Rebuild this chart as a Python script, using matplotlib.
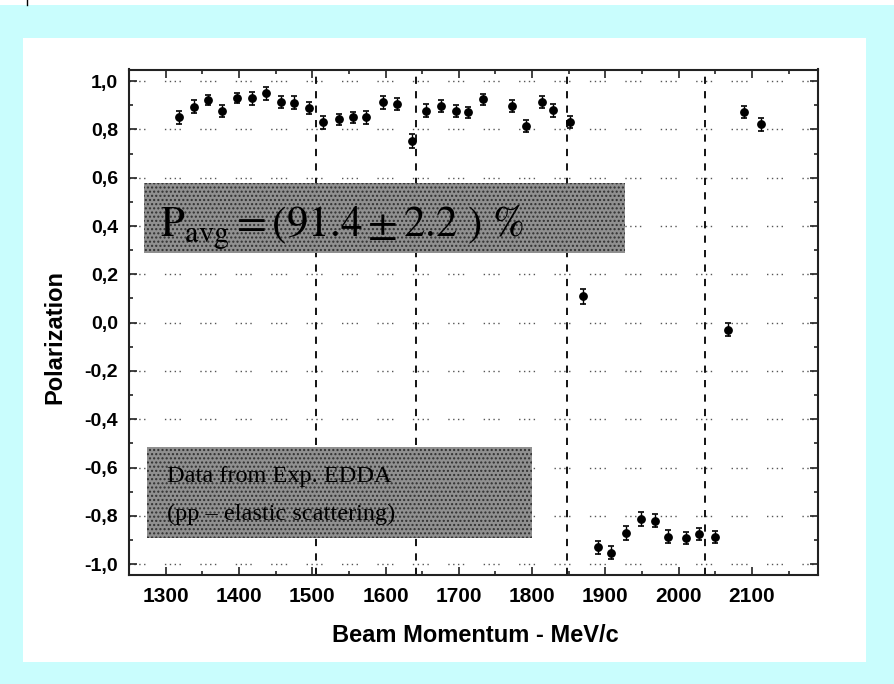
import numpy as np
import matplotlib
matplotlib.use('Agg')
from matplotlib import pyplot as plt
from matplotlib.patches import Rectangle
from matplotlib.lines import Line2D
from matplotlib.ticker import MultipleLocator, FuncFormatter

# beam momentum (MeV/c), measured polarization and its error
momentum = [1318, 1338, 1358, 1377, 1398, 1418, 1437, 1458, 1475, 1496,
            1515, 1536, 1556, 1574, 1596, 1615, 1636, 1655, 1675, 1696,
            1713, 1733, 1773, 1792, 1813, 1829, 1852, 1870, 1890, 1908,
            1928, 1948, 1967, 1986, 2010, 2028, 2049, 2067, 2089, 2112]
polarization = [0.850, 0.894, 0.921, 0.876, 0.931, 0.928, 0.949, 0.912, 0.910, 0.887,
                0.829, 0.842, 0.850, 0.850, 0.912, 0.904, 0.752, 0.877, 0.898, 0.876,
                0.871, 0.924, 0.897, 0.814, 0.912, 0.880, 0.832, 0.109, -0.931, -0.952,
                -0.872, -0.814, -0.821, -0.886, -0.890, -0.876, -0.886, -0.029, 0.871, 0.822]
pol_err = [0.028, 0.027, 0.022, 0.025, 0.020, 0.025, 0.027, 0.025, 0.027, 0.025,
           0.028, 0.022, 0.022, 0.027, 0.027, 0.025, 0.031, 0.027, 0.025, 0.025,
           0.022, 0.022, 0.025, 0.025, 0.025, 0.027, 0.025, 0.030, 0.025, 0.028,
           0.028, 0.030, 0.027, 0.027, 0.025, 0.025, 0.025, 0.027, 0.025, 0.027]

# spin flip positions
flips = [1505, 1641, 1847, 2036]

avg_text = r'$\mathrm{P_{avg} = (91.4 \pm 2.2\ )\ \%}$'
info_lines = ['Data from Exp. EDDA', '(pp \u2013 elastic scattering)']

plt.rcParams['mathtext.fontset'] = 'stix'
sans = 'Liberation Sans'

fig = plt.figure(figsize=(8.94, 6.84), dpi=100, facecolor='#c9fdfd')
W, H = 894, 684

# white panel and the thin strip on top
fig.add_artist(Rectangle((23 / W, 1 - 662 / H), 843 / W, 624 / H,
                         transform=fig.transFigure, facecolor='white',
                         edgecolor='none', zorder=0))
fig.add_artist(Rectangle((0, 1 - 5 / H), 1, 5 / H, transform=fig.transFigure,
                         facecolor='white', edgecolor='none', zorder=0))
fig.add_artist(Line2D([27 / W, 27 / W], [1 - 5 / H, 1], transform=fig.transFigure,
                      color='black', lw=1))

ax = fig.add_axes([129 / W, 1 - 575 / H, 689 / W, 505.5 / H])
ax.set_facecolor('white')

ax.errorbar(momentum, polarization, yerr=pol_err, fmt='o', color='black',
            markersize=5.3, elinewidth=1, capsize=2.5, capthick=1.2, zorder=3)

for xf in flips:
    ax.axvline(xf, color='black', lw=1.3, linestyle=(0, (4, 4)), zorder=2)

ax.set_xlim(1250, 2190)
ax.set_ylim(-1.045, 1.048)

ax.xaxis.set_major_locator(MultipleLocator(100))
ax.xaxis.set_minor_locator(MultipleLocator(50))
ax.yaxis.set_major_locator(MultipleLocator(0.2))
ax.yaxis.set_minor_locator(MultipleLocator(0.1))
ax.yaxis.set_major_formatter(FuncFormatter(
    lambda v, p: f'{round(v, 1) + 0.0:.1f}'.replace('.', ',')))

ax.grid(axis='y', which='major', color='#555555', lw=1,
        linestyle=(0, (1, 2.5, 1, 2.5, 1, 2.5, 1, 14)))
ax.set_axisbelow(True)

ax.tick_params(which='both', direction='in', top=True, right=True, width=1.2,
               color='#222222')
ax.tick_params(which='major', length=5.5)
ax.tick_params(which='minor', length=3)
ax.tick_params(axis='x', pad=9)
ax.tick_params(axis='y', pad=8)
for lab in ax.get_xticklabels():
    lab.set_fontfamily(sans)
    lab.set_fontweight('bold')
    lab.set_fontsize(15)
for lab in ax.get_yticklabels():
    lab.set_fontfamily(sans)
    lab.set_fontweight('bold')
    lab.set_fontsize(14)
for s in ax.spines.values():
    s.set_linewidth(1.5)
    s.set_color('#222222')

fig.text(475 / W, 1 - 635 / H, 'Beam Momentum - MeV/c', ha='center', va='center',
         fontsize=17, fontweight='bold', family=sans)
fig.text(55 / W, 1 - 337 / H, 'Polarization', ha='center', va='center',
         rotation=90, fontsize=17, fontweight='bold', family=sans)

# grey stippled boxes
box_kw = dict(transform=ax.transAxes, facecolor='#909090', edgecolor='#303030',
              hatch='....', lw=0, zorder=4)
ax.add_patch(Rectangle((0.0218, 0.637), 0.698, 0.1385, **box_kw))
ax.add_patch(Rectangle((0.026, 0.0732), 0.559, 0.18, **box_kw))

ax.text(0.045, 0.669, avg_text, transform=ax.transAxes, fontsize=31,
        color='black', va='baseline', zorder=5)
ax.text(0.055, 0.184, info_lines[0], transform=ax.transAxes, fontsize=17.5,
        family='Liberation Serif', va='baseline', zorder=5)
ax.text(0.055, 0.109, info_lines[1], transform=ax.transAxes, fontsize=17.5,
        family='Liberation Serif', va='baseline', zorder=5)

plt.savefig('out.png', dpi=100, facecolor=fig.get_facecolor())
